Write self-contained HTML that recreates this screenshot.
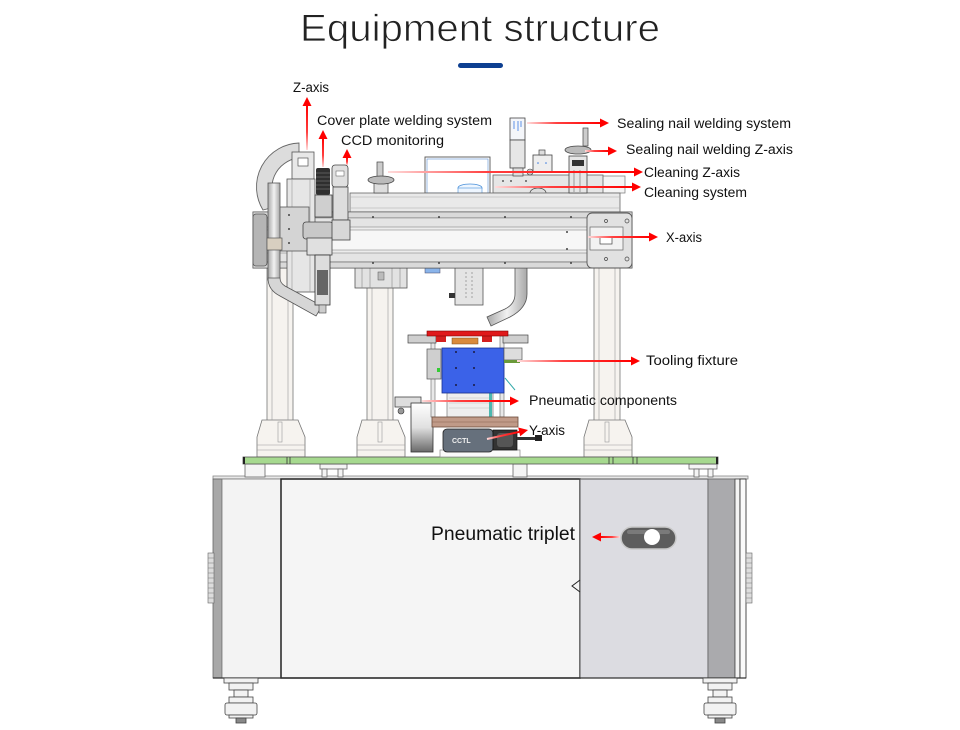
<!DOCTYPE html>
<html><head><meta charset="utf-8"><style>
html,body{margin:0;padding:0;background:#fff;}
svg{display:block;}
text{font-family:"Liberation Sans",sans-serif;}
</style></head><body>
<svg width="960" height="730" viewBox="0 0 960 730" xmlns="http://www.w3.org/2000/svg">
<defs>
<linearGradient id="gr" x1="0" y1="0" x2="1" y2="0"><stop offset="0" stop-color="#ffdcdc"/><stop offset="0.4" stop-color="#ff4040"/><stop offset="1" stop-color="#ff0000"/></linearGradient>
<linearGradient id="gu" x1="0" y1="1" x2="0" y2="0"><stop offset="0" stop-color="#ffdcdc"/><stop offset="0.4" stop-color="#ff4040"/><stop offset="1" stop-color="#ff0000"/></linearGradient>
<linearGradient id="gl" x1="1" y1="0" x2="0" y2="0"><stop offset="0" stop-color="#ffdcdc"/><stop offset="0.4" stop-color="#ff4040"/><stop offset="1" stop-color="#ff0000"/></linearGradient>
<linearGradient id="cylv" x1="0" y1="0" x2="0" y2="1"><stop offset="0" stop-color="#ffffff"/><stop offset="0.5" stop-color="#e0e0e0"/><stop offset="1" stop-color="#6a6a6a"/></linearGradient>
<linearGradient id="pipe" x1="0" y1="0" x2="1" y2="0"><stop offset="0" stop-color="#a8a8a8"/><stop offset="0.5" stop-color="#f2f2f2"/><stop offset="1" stop-color="#a8a8a8"/></linearGradient>
</defs>

<!-- Title -->
<text x="300" y="41" font-size="38" fill="#222" stroke="#fff" stroke-width="0.8" textLength="360" lengthAdjust="spacingAndGlyphs">Equipment structure</text>
<rect x="458" y="63" width="45" height="5" rx="2.5" fill="#0d3f91"/>

<!-- ===== Cabinet ===== -->
<rect x="213" y="476" width="535" height="3" fill="#e8e8e8" stroke="#888" stroke-width="0.8"/>
<rect x="213" y="479" width="9" height="199" fill="#a8a8a8" stroke="#666" stroke-width="0.8"/>
<rect x="222" y="479" width="59" height="199" fill="#f3f3f3" stroke="#777" stroke-width="0.8"/>
<rect x="281" y="479" width="299" height="199" fill="#f5f5f5" stroke="#222" stroke-width="1.5"/>
<rect x="580" y="479" width="128" height="199" fill="#dcdce1" stroke="#555" stroke-width="1"/>
<rect x="708" y="479" width="27" height="199" fill="#aaaaad" stroke="#666" stroke-width="0.8"/>
<rect x="735" y="479" width="5" height="199" fill="#f4f4f4" stroke="#444" stroke-width="0.8"/>
<rect x="740" y="479" width="6" height="199" fill="#fafafa" stroke="#222" stroke-width="0.8"/>
<line x1="213" y1="678" x2="746" y2="678" stroke="#333" stroke-width="1.2"/>
<path d="M580 580 L572 586 L580 592" fill="none" stroke="#222" stroke-width="1"/>
<!-- vents -->
<rect x="208" y="553" width="6" height="50" fill="#ddd" stroke="#666" stroke-width="0.6"/>
<path d="M208 558h6M208 563h6M208 568h6M208 573h6M208 578h6M208 583h6M208 588h6M208 593h6M208 598h6" stroke="#777" stroke-width="0.6"/>
<rect x="746" y="553" width="6" height="50" fill="#ddd" stroke="#666" stroke-width="0.6"/>
<path d="M746 558h6M746 563h6M746 568h6M746 573h6M746 578h6M746 583h6M746 588h6M746 593h6M746 598h6" stroke="#777" stroke-width="0.6"/>
<!-- knob -->
<rect x="621" y="527" width="55" height="22" rx="11" fill="#5d5d5d" stroke="#c8c8c8" stroke-width="1.5"/>
<rect x="627" y="530" width="43" height="4" rx="2" fill="#7a7a7a"/>
<circle cx="652" cy="537" r="8" fill="#fff"/>

<!-- feet -->
<g fill="#f2f2f2" stroke="#444" stroke-width="0.8">
<rect x="224" y="678" width="34" height="5"/>
<rect x="229" y="683" width="24" height="7"/>
<rect x="234" y="690" width="14" height="7"/>
<rect x="229" y="697" width="24" height="6"/>
<rect x="225" y="703" width="32" height="12" rx="2"/>
<rect x="229" y="715" width="24" height="3"/>
<rect x="236" y="718" width="10" height="5" fill="#888"/>
<rect x="703" y="678" width="34" height="5"/>
<rect x="708" y="683" width="24" height="7"/>
<rect x="713" y="690" width="14" height="7"/>
<rect x="708" y="697" width="24" height="6"/>
<rect x="704" y="703" width="32" height="12" rx="2"/>
<rect x="708" y="715" width="24" height="3"/>
<rect x="715" y="718" width="10" height="5" fill="#888"/>
</g>

<!-- under-plate legs -->
<g fill="#f4f4f4" stroke="#666" stroke-width="0.8">
<rect x="245" y="464" width="20" height="13"/>
<rect x="320" y="464" width="27" height="5"/><rect x="322" y="469" width="5" height="8"/><rect x="338" y="469" width="5" height="8"/>
<rect x="513" y="464" width="14" height="13"/>
<rect x="689" y="464" width="28" height="5"/><rect x="694" y="469" width="5" height="8"/><rect x="708" y="469" width="5" height="8"/>
</g>

<!-- ===== Pillars ===== -->
<g fill="#f6f3ef" stroke="#777" stroke-width="0.8">
<rect x="267" y="266" width="26" height="156"/>
<rect x="367" y="266" width="26" height="156"/>
<rect x="594" y="266" width="26" height="156"/>
<polygon points="262,420 298,420 305,437 305,457 257,457 257,437"/>
<polygon points="362,420 398,420 405,437 405,457 357,457 357,437"/>
<polygon points="589,420 625,420 632,437 632,457 584,457 584,437"/>
</g>
<g stroke="#999" stroke-width="0.6" fill="none">
<path d="M272 266V420M288 266V420M372 266V420M388 266V420M599 266V420M615 266V420"/>
<path d="M257 445H305M257 450H305M357 445H405M357 450H405M584 445H632M584 450H632"/>
<rect x="278" y="422" width="4" height="20"/><rect x="378" y="422" width="4" height="20"/><rect x="605" y="422" width="4" height="20"/>
</g>

<!-- green base plate -->
<rect x="243" y="457" width="475" height="7" fill="#a6d98f" stroke="#555" stroke-width="0.8"/>
<path d="M287 457v7M290 457v7M609 457v7M613 457v7M633 457v7M637 457v7" stroke="#333" stroke-width="0.8"/>
<rect x="243" y="457" width="2" height="7" fill="#222"/><rect x="716" y="457" width="2" height="7" fill="#222"/>

<!-- ===== Fixture / Y-axis ===== -->
<rect x="440" y="450" width="80" height="7" fill="#fafafa" stroke="#888" stroke-width="0.7"/>
<rect x="395" y="397" width="26" height="10" fill="#ddd" stroke="#444" stroke-width="0.8"/>
<circle cx="401" cy="411" r="3" fill="#999" stroke="#333" stroke-width="0.6"/>
<rect x="411" y="403" width="22" height="49" fill="url(#cylv)" stroke="#333" stroke-width="0.8"/>
<rect x="431" y="336" width="4" height="81" fill="#e8e8e8" stroke="#666" stroke-width="0.6"/>
<rect x="500" y="336" width="4" height="81" fill="#e8e8e8" stroke="#666" stroke-width="0.6"/>
<rect x="427" y="349" width="14" height="30" fill="#cfcfcf" stroke="#555" stroke-width="0.7"/>
<rect x="437" y="368" width="3" height="4" fill="#3c3"/>
<rect x="447" y="393" width="46" height="24" fill="#eeeeee" stroke="#777" stroke-width="0.7"/>
<path d="M449 398h40M449 403h40M449 408h40" stroke="#bbb" stroke-width="0.6"/>
<rect x="489" y="393" width="3" height="24" fill="#4cb8b0"/>
<rect x="408" y="335" width="28" height="8" fill="#cfcfcf" stroke="#444" stroke-width="0.7"/>
<rect x="503" y="335" width="25" height="8" fill="#cfcfcf" stroke="#444" stroke-width="0.7"/>
<rect x="436" y="336" width="10" height="6" fill="#d42020"/>
<rect x="482" y="336" width="10" height="6" fill="#d42020"/>
<rect x="452" y="338" width="26" height="6" fill="#d98a3c" stroke="#7a4a1a" stroke-width="0.5"/>
<rect x="427" y="331" width="81" height="5" fill="#e0191b" stroke="#7a0000" stroke-width="0.6"/>
<rect x="442" y="348" width="62" height="45" fill="#3b62e8" stroke="#1a3090" stroke-width="0.8"/>
<g fill="#1a1a40"><circle cx="456" cy="352" r="1"/><circle cx="474" cy="352" r="1"/><circle cx="456" cy="368" r="1"/><circle cx="474" cy="368" r="1"/><circle cx="456" cy="385" r="1"/><circle cx="474" cy="385" r="1"/></g>
<rect x="504" y="348" width="18" height="12" fill="#ddd" stroke="#555" stroke-width="0.7"/>
<rect x="504" y="360" width="16" height="3" fill="#6b9a3a"/>
<line x1="505" y1="378" x2="515" y2="390" stroke="#3aa" stroke-width="1"/>
<rect x="432" y="417" width="86" height="10" fill="#c09a88" stroke="#6a4a3a" stroke-width="0.8"/>
<line x1="432" y1="422" x2="518" y2="422" stroke="#8a6050" stroke-width="0.6"/>
<rect x="443" y="429" width="50" height="23" rx="4" fill="#66707c" stroke="#222" stroke-width="0.8"/>
<text x="452" y="443" font-size="7" font-weight="bold" fill="#f0f0f0">CCTL</text>
<rect x="493" y="430" width="24" height="20" fill="#333" stroke="#111" stroke-width="0.7"/>
<rect x="497" y="433" width="16" height="14" rx="3" fill="#555"/>
<rect x="517" y="437" width="18" height="3" fill="#333"/>
<rect x="535" y="435" width="7" height="6" fill="#222"/>

<!-- ===== Under-beam parts ===== -->
<rect x="355" y="268" width="52" height="20" fill="#e2e2e2" stroke="#555" stroke-width="0.8"/>
<path d="M362 268v20M370 268v20M392 268v20M400 268v20" stroke="#888" stroke-width="0.6"/>
<rect x="378" y="272" width="6" height="8" fill="#bbb" stroke="#555" stroke-width="0.5"/>
<rect x="425" y="268" width="15" height="5" fill="#8ab4ea" stroke="#446" stroke-width="0.5"/>
<rect x="455" y="268" width="28" height="37" fill="#e4e4e4" stroke="#555" stroke-width="0.8"/>
<path d="M466 272v28M472 272v28" stroke="#777" stroke-width="0.6" stroke-dasharray="2 2"/>
<rect x="449" y="293" width="6" height="5" fill="#333"/>
<path d="M515 268 L515 294 Q515 304 505 309 L487 317 L491 326 L510 317 Q527 308 527 294 L527 268 Z" fill="url(#pipe)" stroke="#555" stroke-width="0.8"/>

<!-- ===== Upper gantry ===== -->
<rect x="595" y="176" width="30" height="17" fill="#f5f5f5" stroke="#777" stroke-width="0.7"/>
<rect x="493" y="175" width="110" height="18" fill="#e6e6e6" stroke="#666" stroke-width="0.8"/>
<circle cx="503" cy="181" r="0.9" fill="#333"/><circle cx="511" cy="181" r="0.9" fill="#333"/><circle cx="526" cy="181" r="0.9" fill="#333"/><circle cx="511" cy="187" r="0.9" fill="#333"/>
<path d="M530 193 A8 5 0 0 1 546 193" fill="#ddd" stroke="#444" stroke-width="0.7"/>
<rect x="425" y="157" width="65" height="36" fill="#fff" stroke="#555" stroke-width="0.9"/>
<rect x="427" y="159" width="61" height="34" fill="none" stroke="#5b8fd6" stroke-width="0.6"/>
<ellipse cx="470" cy="188" rx="12" ry="4" fill="#eef6ff" stroke="#4a90d9" stroke-width="0.8"/>
<rect x="458" y="188" width="24" height="5" fill="#eef6ff" stroke="#4a90d9" stroke-width="0.6"/>
<rect x="350" y="193" width="270" height="19" fill="#e9e9e9" stroke="#666" stroke-width="0.8"/>
<path d="M350 197H620M350 208H620" stroke="#aaa" stroke-width="0.6"/>
<!-- sealing nail welding system -->
<rect x="510" y="118" width="15" height="22" fill="#f4f6fa" stroke="#444" stroke-width="0.8"/>
<path d="M514 121v8M518 121v10M521 121v6" stroke="#3a7be0" stroke-width="0.8"/>
<rect x="510" y="140" width="15" height="28" fill="#e6e6e6" stroke="#444" stroke-width="0.8"/>
<rect x="513" y="168" width="10" height="8" fill="#ddd" stroke="#444" stroke-width="0.7"/>
<rect x="533" y="155" width="19" height="17" fill="#eee" stroke="#444" stroke-width="0.8"/>
<rect x="539" y="150" width="6" height="5" fill="#ddd" stroke="#444" stroke-width="0.7"/>
<circle cx="538" cy="163" r="0.8" fill="#3a7be0"/><circle cx="546" cy="163" r="0.8" fill="#3a7be0"/>
<circle cx="530" cy="172" r="3" fill="#ccc" stroke="#444" stroke-width="0.6"/>
<!-- right handwheel -->
<rect x="569" y="156" width="18" height="37" fill="#e6e6e6" stroke="#444" stroke-width="0.8"/>
<rect x="572" y="160" width="12" height="6" fill="#333"/>
<path d="M574 170v22M580 170v22" stroke="#666" stroke-width="0.6"/>
<rect x="583" y="128" width="5" height="18" fill="#ccc" stroke="#444" stroke-width="0.7"/>
<ellipse cx="578" cy="150" rx="13" ry="4" fill="#bbb" stroke="#444" stroke-width="0.8"/>
<!-- left handwheel -->
<rect x="374" y="183" width="14" height="10" fill="#ddd" stroke="#444" stroke-width="0.7"/>
<rect x="377" y="162" width="6" height="15" fill="#ccc" stroke="#444" stroke-width="0.7"/>
<ellipse cx="381" cy="180" rx="13" ry="4" fill="#bbb" stroke="#444" stroke-width="0.8"/>

<!-- main beam -->
<rect x="253" y="212" width="379" height="56" fill="#ececec" stroke="#555" stroke-width="0.9"/>
<rect x="253" y="212" width="379" height="6" fill="#d9d9d9" stroke="#555" stroke-width="0.6"/>
<rect x="253" y="218" width="379" height="9" fill="#e4e4e4" stroke="#777" stroke-width="0.5"/>
<rect x="253" y="230" width="379" height="20" fill="#f7f7f7" stroke="#777" stroke-width="0.5"/>
<rect x="253" y="253" width="379" height="9" fill="#e4e4e4" stroke="#777" stroke-width="0.5"/>
<rect x="253" y="262" width="379" height="6" fill="#d9d9d9" stroke="#555" stroke-width="0.6"/>
<g fill="#444"><circle cx="373" cy="217" r="1"/><circle cx="439" cy="217" r="1"/><circle cx="505" cy="217" r="1"/><circle cx="571" cy="217" r="1"/><circle cx="373" cy="263" r="1"/><circle cx="439" cy="263" r="1"/><circle cx="505" cy="263" r="1"/><circle cx="571" cy="263" r="1"/><circle cx="567" cy="232" r="1"/><circle cx="567" cy="249" r="1"/></g>
<rect x="253" y="214" width="14" height="52" rx="3" fill="#b5b5b5" stroke="#555" stroke-width="0.8"/>
<rect x="587" y="213" width="45" height="55" rx="5" fill="#e1e1e1" stroke="#555" stroke-width="0.9"/>
<rect x="590" y="227" width="33" height="23" fill="#f2f2f2" stroke="#666" stroke-width="0.7"/>
<rect x="600" y="237" width="12" height="7" fill="#fff" stroke="#444" stroke-width="0.7"/>
<g fill="none" stroke="#444" stroke-width="0.7"><circle cx="606" cy="221" r="1.5"/><circle cx="627" cy="221" r="2"/><circle cx="606" cy="259" r="1.5"/><circle cx="627" cy="259" r="2"/></g>

<!-- ===== Left Z-axis assembly ===== -->
<path d="M299 143 A44 44 0 0 0 263 210 L278 206 A30 30 0 0 1 299 158 Z" fill="#dcdcdc" stroke="#666" stroke-width="0.9"/>
<rect x="292" y="152" width="22" height="27" fill="#e8e8e8" stroke="#555" stroke-width="0.8"/>
<rect x="298" y="158" width="10" height="8" fill="#fff" stroke="#555" stroke-width="0.7"/>
<rect x="287" y="179" width="28" height="113" fill="#e6e6e6" stroke="#555" stroke-width="0.8"/>
<path d="M292 179V292M310 179V292" stroke="#999" stroke-width="0.6"/>
<rect x="279" y="207" width="30" height="44" fill="#d4d4d4" stroke="#555" stroke-width="0.8"/>
<g fill="#444"><circle cx="289" cy="215" r="1"/><circle cx="289" cy="229" r="1"/><circle cx="289" cy="243" r="1"/></g>
<rect x="268" y="183" width="12" height="97" fill="url(#pipe)" stroke="#555" stroke-width="0.8"/>
<path d="M268 278 Q268 290 280 296 L316 316 L322 306 L285 286 Q280 283 280 278 Z" fill="#d6d6d6" stroke="#555" stroke-width="0.8"/>
<rect x="267" y="238" width="15" height="12" fill="#d8cfc0" stroke="#555" stroke-width="0.7"/>
<!-- cover plate head -->
<rect x="316" y="168" width="14" height="27" rx="2" fill="#2f2f2f"/>
<path d="M316 173h14M316 177h14M316 181h14M316 185h14M316 189h14" stroke="#888" stroke-width="0.6"/>
<rect x="315" y="195" width="17" height="22" fill="#cfcfcf" stroke="#444" stroke-width="0.8"/>
<!-- CCD -->
<rect x="332" y="165" width="16" height="22" rx="3" fill="#e0e0e0" stroke="#444" stroke-width="0.8"/>
<rect x="336" y="171" width="8" height="5" fill="#fff" stroke="#555" stroke-width="0.5"/>
<rect x="333" y="187" width="15" height="33" fill="#dddddd" stroke="#444" stroke-width="0.8"/>
<!-- welding head -->
<rect x="303" y="222" width="30" height="17" rx="3" fill="#c8c8c8" stroke="#444" stroke-width="0.8"/>
<rect x="332" y="220" width="18" height="20" fill="#d8d8d8" stroke="#444" stroke-width="0.8"/>
<rect x="307" y="238" width="25" height="17" fill="#e0e0e0" stroke="#444" stroke-width="0.8"/>
<rect x="315" y="255" width="15" height="50" fill="#dddddd" stroke="#333" stroke-width="0.8"/>
<rect x="317" y="270" width="11" height="25" fill="#666"/>
<rect x="319" y="305" width="7" height="8" fill="#ccc" stroke="#444" stroke-width="0.6"/>

<!-- ===== Arrows ===== -->
<rect x="306" y="105" width="2" height="45" fill="url(#gu)"/><polygon points="302.5,106 307,97 311.5,106" fill="#f00"/>
<rect x="322" y="138" width="2" height="29" fill="url(#gu)"/><polygon points="318.5,139 323,130 327.5,139" fill="#f00"/>
<rect x="346" y="157" width="2" height="8" fill="url(#gu)"/><polygon points="342.5,158 347,149 351.5,158" fill="#f00"/>
<rect x="527" y="122" width="74" height="2" fill="url(#gr)"/><polygon points="600,118.5 609,123 600,127.5" fill="#f00"/>
<rect x="585" y="150" width="24" height="2" fill="url(#gr)"/><polygon points="608,146.5 617,151 608,155.5" fill="#f00"/>
<rect x="388" y="171" width="247" height="2" fill="url(#gr)"/><polygon points="634,167.5 643,172 634,176.5" fill="#f00"/>
<rect x="495" y="186" width="138" height="2" fill="url(#gr)"/><polygon points="632,182.5 641,187 632,191.5" fill="#f00"/>
<rect x="588" y="236" width="62" height="2" fill="url(#gr)"/><polygon points="649,232.5 658,237 649,241.5" fill="#f00"/>
<rect x="517" y="360" width="115" height="2" fill="url(#gr)"/><polygon points="631,356.5 640,361 631,365.5" fill="#f00"/>
<rect x="422" y="400" width="89" height="2" fill="url(#gr)"/><polygon points="510,396.5 519,401 510,405.5" fill="#f00"/>
<g transform="rotate(-12.4 487 439)"><rect x="487" y="438" width="34" height="2" fill="url(#gr)"/><polygon points="520,434.5 529,439 520,443.5" fill="#f00"/></g>
<rect x="600" y="536" width="20" height="2" fill="url(#gl)"/><polygon points="601,532.5 592,537 601,541.5" fill="#f00"/>

<!-- ===== Labels ===== -->
<g font-size="13.5" fill="#111">
<text x="293" y="92" textLength="36" lengthAdjust="spacingAndGlyphs">Z-axis</text>
<text x="317" y="125" textLength="175" lengthAdjust="spacingAndGlyphs">Cover plate welding system</text>
<text x="341" y="145" textLength="103" lengthAdjust="spacingAndGlyphs">CCD monitoring</text>
<text x="617" y="128" textLength="174" lengthAdjust="spacingAndGlyphs">Sealing nail welding system</text>
<text x="626" y="154" textLength="167" lengthAdjust="spacingAndGlyphs">Sealing nail welding Z-axis</text>
<text x="644" y="177" textLength="96" lengthAdjust="spacingAndGlyphs">Cleaning Z-axis</text>
<text x="644" y="197" textLength="103" lengthAdjust="spacingAndGlyphs">Cleaning system</text>
<text x="666" y="242" textLength="36" lengthAdjust="spacingAndGlyphs">X-axis</text>
<text x="646" y="365" textLength="92" lengthAdjust="spacingAndGlyphs">Tooling fixture</text>
<text x="529" y="405" textLength="148" lengthAdjust="spacingAndGlyphs">Pneumatic components</text>
<text x="529" y="435" textLength="36" lengthAdjust="spacingAndGlyphs">Y-axis</text>
</g>
<text x="431" y="540" font-size="19" fill="#111" textLength="144" lengthAdjust="spacingAndGlyphs">Pneumatic triplet</text>
</svg>
</body></html>
